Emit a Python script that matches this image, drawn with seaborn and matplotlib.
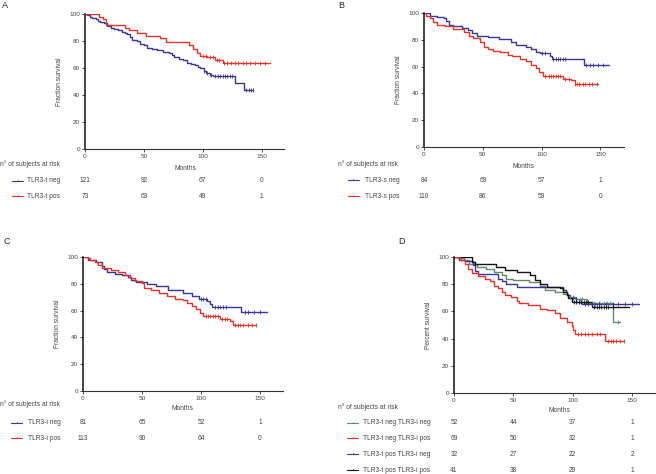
import numpy as np
import pandas as pd
import matplotlib
matplotlib.use('Agg')
import matplotlib.pyplot as plt
import matplotlib.transforms as mtransforms
from matplotlib.lines import Line2D
import seaborn as sns

# ---- data (months, % surviving) ----
# Panel A: TLR3-t
a_neg_t = [0, 2, 4, 6, 9, 11, 13, 16, 19, 22, 25, 28, 31, 34, 36, 38, 40, 44, 47, 50, 53, 57, 61, 66,
           71, 74, 76, 80, 83, 87, 90, 93, 96, 98, 101, 103, 106, 109, 127, 135, 143]
a_neg_s = [100, 99, 98, 97, 96, 95, 94, 93, 91, 90, 89, 88, 87, 86, 85, 83, 81, 80, 78, 77, 75, 74, 73, 72,
           71, 70, 68, 67, 66, 64, 63, 62, 61, 60, 58, 56, 55, 54, 49, 44, 44]
a_neg_c = [101, 104, 107, 110, 113, 115, 117, 119, 121, 123, 125, 137, 139, 141, 143]
a_pos_t = [0, 12, 15, 18, 34, 37, 44, 52, 64, 69, 88, 92, 95, 98, 104, 110, 117, 157]
a_pos_s = [100, 98, 96, 92, 90, 88, 86, 84, 82, 79, 77, 74, 71, 69, 68, 66, 64, 64]
a_pos_c = [100, 103, 106, 109, 112, 114, 118, 121, 124, 127, 130, 134, 137, 140, 144, 149, 153]

# Panel B: TLR3-s
b_neg_t = [0, 5, 11, 17, 19, 21, 25, 32, 37, 41, 45, 54, 64, 74, 78, 87, 91, 95, 99, 107, 109, 136, 157]
b_neg_s = [100, 98, 97, 96, 94, 91, 90, 89, 87.5, 85, 83, 82, 80.5, 78, 76, 75, 73, 71, 70, 68, 66, 61, 61]
b_neg_c = [100, 103, 110, 112, 114, 116, 118, 120, 138, 141, 144, 148, 152]
b_pos_t = [0, 2, 5, 8, 11, 18, 25, 34, 38, 42, 48, 51, 54, 59, 65, 71, 75, 82, 87, 91, 95, 98, 101,
           118, 125, 128, 148]
b_pos_s = [100, 98, 96, 93, 91, 90, 88, 86, 83, 81, 78, 75, 73, 72, 71, 69, 68, 66, 64, 61, 59, 56, 53,
           51, 50, 47, 47]
b_pos_c = [103, 106, 108, 110, 112, 114, 116, 120, 123, 128, 130, 132, 135, 137, 140, 143, 147]

# Panel C: TLR3-i
c_neg_t = [0, 4, 11, 16, 18, 20, 27, 33, 38, 41, 45, 54, 62, 72, 85, 92, 98, 105, 108, 109, 134, 156]
c_neg_s = [100, 98, 96, 93, 91, 89, 87, 86.5, 85, 83, 81, 80, 78, 75.5, 73.5, 71, 68.5, 67, 65, 63, 59, 59]
c_neg_c = [100, 102, 104, 112, 114, 116, 119, 121, 137, 140, 145, 150]
c_pos_t = [0, 4, 6, 10, 13, 16, 24, 30, 36, 40, 44, 50, 52, 58, 64, 71, 78, 85, 88, 92, 96, 99, 102,
           116, 125, 127, 147]
c_pos_s = [100, 99, 97.5, 96, 94, 91.5, 90, 89, 86.5, 84, 82, 80.5, 77, 75.5, 73, 71, 69, 68, 66, 63.5,
           61, 58.5, 56, 54, 52.5, 49, 49]
c_pos_c = [104, 106, 108, 110, 112, 114, 118, 120, 122, 129, 131, 133, 136, 140, 143, 147]

# Panel D: combined
d_nn_t = [0, 4, 8, 13, 19, 27, 34, 40, 44, 50, 63, 72, 77, 85, 92, 96, 103, 112, 134, 140]
d_nn_s = [100, 99, 97.5, 95, 93, 91.5, 89, 86.5, 84, 83, 81.5, 79, 76, 74.5, 73, 70.5, 69, 66, 52.5, 52.5]
d_nn_c = [98, 100, 106, 108, 116, 118, 122, 126, 129, 131, 138]
d_np_t = [0, 5, 9, 12, 15, 20, 26, 30, 34, 37, 40, 43, 48, 53, 55, 62, 72, 78, 85, 89, 95, 99, 100,
          102, 127, 143]
d_np_s = [100, 97.5, 95, 91.5, 88, 86, 84, 82.5, 79, 77, 74.5, 72, 70.5, 68, 66, 64.5, 62, 61, 58.5,
          55, 52.5, 49, 46, 43.5, 38, 38]
d_np_c = [104, 107, 110, 113, 116, 120, 123, 130, 132, 134, 136, 140, 143]
d_pn_t = [0, 4, 9, 16, 18, 20, 37, 40, 44, 53, 92, 94, 95, 98, 103, 108, 156]
d_pn_s = [100, 98, 97, 94, 90, 87.5, 84, 82, 80.5, 78, 76, 74, 72, 69.5, 67, 65.5, 65.5]
d_pn_c = [100, 105, 110, 113, 116, 119, 122, 128, 134, 138, 144, 150]
d_pp_t = [0, 15, 18, 35, 43, 53, 64, 68, 72, 78, 89, 92, 95, 96, 99, 116, 147]
d_pp_s = [100, 96, 94.5, 92.5, 90.5, 89, 86.5, 83, 80.5, 78, 77, 74.5, 72, 69.5, 67, 63, 63]
d_pp_c = [101, 103, 105, 107, 109, 111, 113, 118, 120, 122, 124, 126, 128, 130, 134]

# numbers at risk at 0, 50, 100, 150 months
risk_times = [0, 50, 100, 150]
a_risk = {'TLR3-t neg': [121, 92, 67, 0], 'TLR3-t pos': [73, 63, 49, 1]}
b_risk = {'TLR3-s neg': [84, 69, 57, 1], 'TLR3-s pos': [110, 86, 59, 0]}
c_risk = {'TLR3-i neg': [81, 65, 52, 1], 'TLR3-i pos': [113, 90, 64, 0]}
d_risk = {'TLR3-t neg TLR3-i neg': [52, 44, 37, 1],
          'TLR3-t neg TLR3-i pos': [69, 50, 32, 1],
          'TLR3-t pos TLR3-i neg': [32, 27, 22, 2],
          'TLR3-t pos TLR3-i pos': [41, 38, 29, 1]}

BLUE = '#3a3596'
RED = '#e6332a'
GREEN = '#5f8b6d'
BLACK = '#151515'
TXT = '#444444'

W, H = 656, 474

sns.set_style('ticks')
plt.rcParams['font.family'] = ['Liberation Sans', 'DejaVu Sans']
plt.rcParams['text.color'] = TXT

fig = plt.figure(figsize=(W / 100, H / 100), dpi=100)


def fx(px):
    return px / W


def fy(py):
    return 1 - py / H


def km(ax, t, s, cens, color):
    df = pd.DataFrame({'t': t, 's': s})
    sns.lineplot(data=df, x='t', y='s', ax=ax, color=color, lw=1.0,
                 drawstyle='steps-post', estimator=None, sort=False)
    idx = np.searchsorted(t, cens, side='right') - 1
    ax.scatter(cens, np.array(s)[idx], marker='|', s=5, lw=0.6, color=color, zorder=3)


def make_axes(left, top, right, bottom, xmax):
    ax = fig.add_axes([fx(left), fy(bottom), fx(right - left), (bottom - top) / H])
    ax.set_xlim(0, xmax)
    ax.set_ylim(0, 100)
    ax.set_xticks([0, 50, 100, 150])
    ax.set_yticks([0, 20, 40, 60, 80, 100])
    sns.despine(ax=ax)
    ax.spines['left'].set_linewidth(1.1)
    ax.spines['left'].set_color('#111111')
    ax.spines['bottom'].set_linewidth(0.8)
    ax.spines['bottom'].set_color('#333333')
    ax.tick_params(labelsize=4.6, length=2, width=0.6, pad=1.5, colors='#333333', labelcolor=TXT)
    return ax


def finish_axes(ax, ylabel, width):
    ax.set_xlabel('')
    ax.set_ylabel(ylabel, fontsize=4.8, color=TXT)
    ax.yaxis.set_label_coords(-22 / width, 0.5)


def risk_table(ax, risk, colors, x_title, y_title, x_months, y_months, x_line, x_label, row_ys):
    fig.text(fx(x_title), fy(y_title), 'n° of subjects at risk', fontsize=4.8, va='center', ha='left')
    fig.text(fx(x_months), fy(y_months), 'Months', fontsize=4.8, va='center', ha='center')
    trans = mtransforms.blended_transform_factory(ax.transData, fig.transFigure)
    for (name, vals), col, ry in zip(risk.items(), colors, row_ys):
        fig.add_artist(Line2D([fx(x_line), fx(x_line + 11)], [fy(ry), fy(ry)], color=col, lw=0.8))
        fig.add_artist(Line2D([fx(x_line + 5.5)] * 2, [fy(ry - 1.5), fy(ry)], color=col, lw=0.6))
        fig.text(fx(x_label), fy(ry), name, fontsize=4.8, va='center', ha='left')
        for tm, v in zip(risk_times, vals):
            ax.text(tm, fy(ry), str(v), transform=trans, fontsize=4.8, va='center', ha='center',
                    color=TXT)


# Panel A
axA = make_axes(85, 14, 284, 149, 169)
km(axA, a_neg_t, a_neg_s, a_neg_c, BLUE)
km(axA, a_pos_t, a_pos_s, a_pos_c, RED)
finish_axes(axA, 'Fraction survival', 199)
risk_table(axA, a_risk, [BLUE, RED], 0, 164, 185, 168, 12, 27, [181, 196])
fig.text(fx(2), fy(6), 'A', fontsize=6.5, va='center', ha='left', color='#222222')

# Panel B
axB = make_axes(424, 13, 624, 147, 170)
km(axB, b_neg_t, b_neg_s, b_neg_c, BLUE)
km(axB, b_pos_t, b_pos_s, b_pos_c, RED)
finish_axes(axB, 'Fraction survival', 200)
risk_table(axB, b_risk, [BLUE, RED], 338, 164, 523, 166, 348, 365, [180, 196])
fig.text(fx(338), fy(5), 'B', fontsize=6.5, va='center', ha='left', color='#222222')

# Panel C
axC = make_axes(83, 257, 283, 391, 169.5)
km(axC, c_neg_t, c_neg_s, c_neg_c, BLUE)
km(axC, c_pos_t, c_pos_s, c_pos_c, RED)
finish_axes(axC, 'Fraction survival', 200)
risk_table(axC, c_risk, [BLUE, RED], 0, 404, 182, 409, 11, 28, [423, 438])
fig.text(fx(3), fy(241), 'C', fontsize=6.5, va='center', ha='left', color='#222222')

# Panel D
axD = make_axes(454, 257, 656, 393, 170)
km(axD, d_nn_t, d_nn_s, d_nn_c, GREEN)
km(axD, d_pn_t, d_pn_s, d_pn_c, BLUE)
km(axD, d_pp_t, d_pp_s, d_pp_c, BLACK)
km(axD, d_np_t, d_np_s, d_np_c, RED)
finish_axes(axD, 'Percent survival', 202)
risk_table(axD, d_risk, [GREEN, RED, BLUE, BLACK], 338, 407, 559, 410, 347, 363, [423, 438, 454, 470])
fig.text(fx(398), fy(241), 'D', fontsize=6.5, va='center', ha='left', color='#222222')

fig.savefig('out.png', dpi=100)
